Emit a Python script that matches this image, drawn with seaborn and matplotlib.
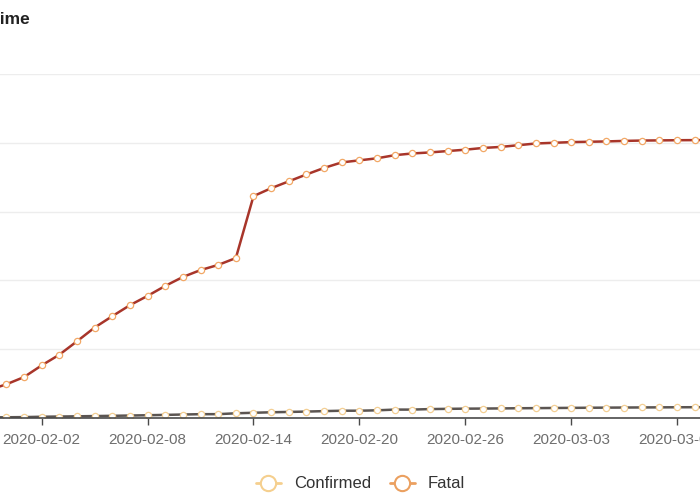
import numpy as np
import pandas as pd
import matplotlib
matplotlib.use("Agg")
import matplotlib.pyplot as plt
import matplotlib.dates as mdates
from matplotlib.lines import Line2D
import seaborn as sns

# ---- data ----
dates = pd.date_range("2020-01-22", "2020-03-11", freq="D")
confirmed = [547, 639, 916, 1399, 2062, 2863, 5494, 6070, 8124, 9800,
             11900, 15300, 18400, 22300, 26300, 29600, 32800, 35500, 38400, 41000,
             43000, 44500, 46500, 64500, 66800, 68800, 70800, 72700, 74300, 74900,
             75500, 76400, 76900, 77200, 77600, 78000, 78500, 78800, 79300, 79800,
             80000, 80200, 80300, 80400, 80550, 80650, 80700, 80750, 80780, 80800]
fatal = [17, 18, 26, 42, 56, 82, 131, 133, 171, 213,
         259, 361, 425, 490, 562, 632, 717, 804, 904, 1011,
         1111, 1116, 1368, 1520, 1662, 1765, 1863, 2002, 2114, 2118,
         2236, 2441, 2443, 2593, 2663, 2715, 2744, 2788, 2835, 2870,
         2912, 2945, 2981, 3013, 3042, 3070, 3097, 3119, 3136, 3158]
series_names = ["Confirmed", "Fatal"]
tick_dates = pd.to_datetime(["2020-02-02", "2020-02-08", "2020-02-14",
                             "2020-02-20", "2020-02-26", "2020-03-03", "2020-03-09"])
title_text = "Confirmed and Fatal Cases over Time"

df = pd.DataFrame({"date": list(dates) * 2,
                   "value": confirmed + fatal,
                   "series": [series_names[0]] * len(dates) + [series_names[1]] * len(dates)})

sns.set_theme(style="white")
plt.rcParams["font.family"] = ["Liberation Sans", "DejaVu Sans"]

W, H = 700, 500
fig = plt.figure(figsize=(7, 5), dpi=100)

x0 = pd.Timestamp("2020-01-22")
x1 = pd.Timestamp("2020-03-12")
px_per_day = 17.65
feb2_px = 41.7
left_px = feb2_px - (pd.Timestamp("2020-02-02") - x0).days * px_per_day
width_px = (x1 - x0).days * px_per_day
bottom_px = H - 418
height_px = 418 - 74
ax = fig.add_axes([left_px / W, bottom_px / H, width_px / W, height_px / H])

line_cols = {"Confirmed": "#a8352a", "Fatal": "#5b5552"}
edge_cols = {"Confirmed": "#f2a866", "Fatal": "#f3cf94"}
legend_cols = {"Confirmed": "#f5cf8e", "Fatal": "#eba060"}

for name in series_names:
    sub = df[df["series"] == name]
    sns.lineplot(data=sub, x="date", y="value", ax=ax, color=line_cols[name],
                 linewidth=1.8, marker="o", markersize=4.5,
                 markerfacecolor="white", markeredgecolor=edge_cols[name],
                 markeredgewidth=0.9, zorder=3 if name == "Confirmed" else 2,
                 legend=False)

ax.set_xlim(x0, x1)
ax.set_ylim(0, 100000)
ax.set_yticks(np.arange(0, 100001, 20000))
ax.yaxis.grid(True, color="#ededed", linewidth=1)
ax.xaxis.grid(False)
for s in ["top", "right", "left"]:
    ax.spines[s].set_visible(False)
ax.spines["bottom"].set_color("#4a4a4a")
ax.spines["bottom"].set_linewidth(1.2)
ax.set_xticks(tick_dates)
ax.xaxis.set_major_formatter(mdates.DateFormatter("%Y-%m-%d"))
ax.tick_params(axis="x", direction="out", length=5, width=1, color="#4a4a4a",
               labelsize=11, labelcolor="#6e6e6e", pad=6, bottom=True)
ax.tick_params(axis="y", left=False, labelleft=False)
ax.set_xlabel("")
ax.set_ylabel("")

handles = [Line2D([0], [0], color=legend_cols[n], lw=2, marker="o", markersize=11,
                  markerfacecolor="white", markeredgecolor=legend_cols[n],
                  markeredgewidth=1.5) for n in series_names]
fig.legend(handles, series_names, loc="center", bbox_to_anchor=(0.515, 1 - 484 / H),
           ncol=2, frameon=False, fontsize=12, handlelength=1.5,
           columnspacing=1.1, handletextpad=0.8, labelcolor="#333333")

fig.text(30 / W, 1 - 20 / H, title_text, ha="right", va="center",
         fontsize=12.5, fontweight="bold", color="#222222")

fig.savefig("out.png", dpi=100)
